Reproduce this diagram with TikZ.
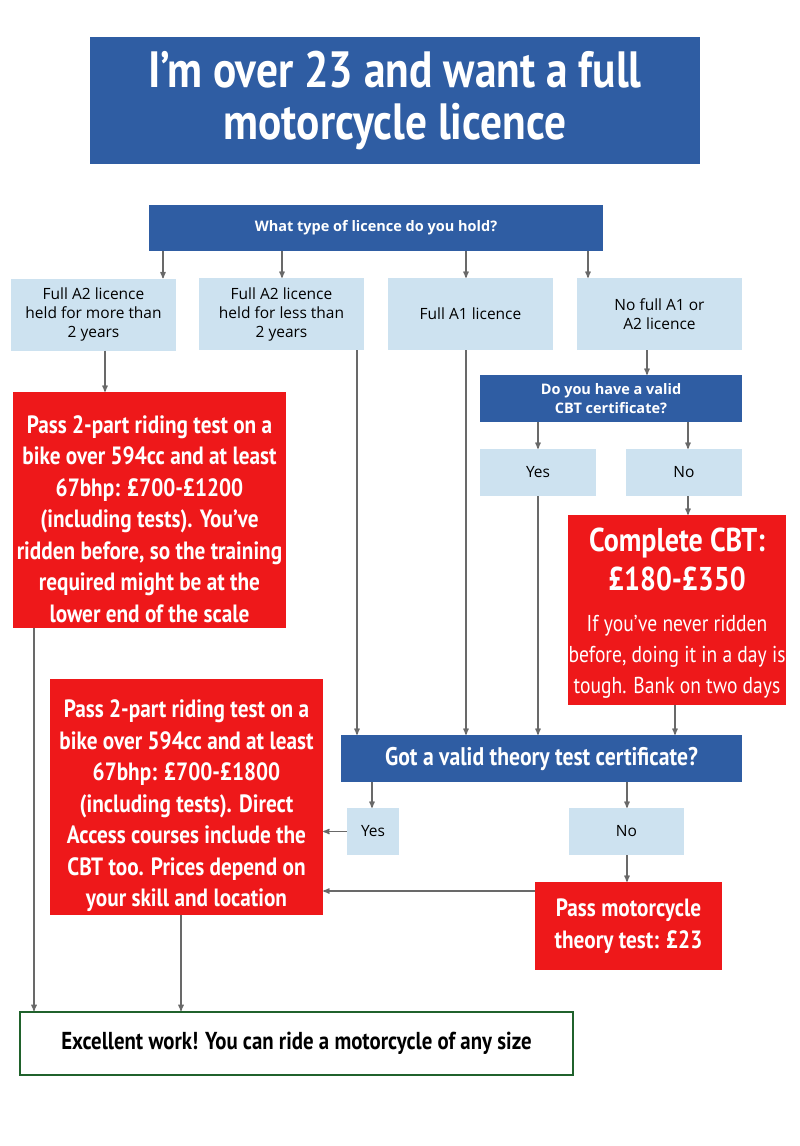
\documentclass[tikz,border=0pt]{standalone}
\usepackage{fontspec}
\setmainfont{Open Sans}
\newfontfamily\condfont[FakeStretch=0.85]{PT Sans}
\usetikzlibrary{arrows,positioning}
\definecolor{govblue}{RGB}{47,93,163}
\definecolor{paleblue}{RGB}{205,226,240}
\definecolor{costred}{RGB}{238,24,26}
\definecolor{okgreen}{RGB}{32,98,44}
\definecolor{pilgrey}{RGB}{105,105,105}
\tikzset{
    %Define standard arrow tip
    >=stealth',
    %Define style for boxes
    titlebox/.style={
           rectangle,
           fill=govblue,
           inner sep=0pt,
           text=white,
           align=center,
           font=\condfont\bfseries\fontsize{51}{52}\selectfont},
    question/.style={
           rectangle,
           fill=govblue,
           inner sep=0pt,
           text=white,
           align=center,
           font=\bfseries\fontsize{14.5}{19}\selectfont},
    bigquestion/.style={
           question,
           font=\condfont\bfseries\fontsize{25.5}{30}\selectfont},
    answer/.style={
           rectangle,
           fill=paleblue,
           inner sep=0pt,
           align=center,
           font=\fontsize{15.5}{19}\selectfont},
    costbox/.style={
           rectangle,
           fill=costred,
           inner sep=0pt,
           text=white,
           align=center,
           font=\condfont\bfseries\fontsize{25}{31.5}\selectfont},
    finish/.style={
           rectangle,
           draw=okgreen,
           line width=2pt,
           inner sep=0pt,
           align=center,
           font=\condfont\bfseries\fontsize{24.5}{28}\selectfont},
    % Define arrow style
    pil/.style={
           ->,
           draw=pilgrey,
           line width=1.3pt}
}
\begin{document}
\begin{tikzpicture}[x=1pt,y=-1pt]
\useasboundingbox (0,0) rectangle (800,1146);
% columns of the connectors
\coordinate (k34) at (34,0);
\coordinate (k105) at (105,0);
\coordinate (k163) at (163,0);
\coordinate (k181) at (181,0);
\coordinate (k282) at (282,0);
\coordinate (k357) at (357,0);
\coordinate (k372) at (372,0);
\coordinate (k466) at (466,0);
\coordinate (k538) at (538,0);
\coordinate (k588) at (588,0);
\coordinate (k627) at (627,0);
\coordinate (k647) at (647,0);
\coordinate (k675) at (675,0);
\coordinate (k688) at (688,0);
\coordinate (r891) at (0,891);

\node[titlebox, minimum width=610pt, minimum height=127pt] (title) at (395,100.5)
    {I’m over 23 and want a full\\motorcycle licence};

\node[question, minimum width=454pt, minimum height=46pt] (hold) at (376,228)
    {What type of licence do you hold?};

\node[answer, minimum width=165pt, minimum height=72pt] (a2more) at (93.5,314.5)
    {Full A2 licence\\held for more than\\2 years};
\node[answer, minimum width=165pt, minimum height=72pt] (a2less) at (281.5,314)
    {Full A2 licence\\held for less than\\2 years};
\node[answer, minimum width=165pt, minimum height=72pt] (a1) at (470.5,314)
    {Full A1 licence};
\node[answer, minimum width=165pt, minimum height=72pt] (nofull) at (659.5,314)
    {No full A1 or\\A2 licence};

\node[question, minimum width=262pt, minimum height=47pt] (cbtq) at (611,398.5)
    {Do you have a valid\\CBT certificate?};
\node[answer, minimum width=116pt, minimum height=47pt] (cyes) at (538,472.5) {Yes};
\node[answer, minimum width=116pt, minimum height=47pt] (cno) at (684,472.5) {No};

\node[costbox, minimum width=218pt, minimum height=190pt, font=\condfont\fontsize{23}{31}\selectfont] (cbt) at (677,610)
    {\\[-1pt]
     \bfseries\fontsize{33}{41}\selectfont Complete CBT:\\[8pt]
     \bfseries\fontsize{33}{41}\selectfont £180-£350\\[10pt]
     If you’ve never ridden\\before, doing it in a day is\\tough. Bank on two days};

\node[costbox, minimum width=273pt, minimum height=236pt] (olddrive) at (149.5,510)
    {\\[4pt]Pass 2-part riding test on a\\bike over 594cc and at least\\67bhp: £700-£1200\\(including tests). You’ve\\ridden before, so the training\\required might be at the\\lower end of the scale};

\node[bigquestion, minimum width=401pt, minimum height=47pt] (theoryq) at (541.5,758.5)
    {Got a valid theory test certificate?};
\node[answer, minimum width=52pt, minimum height=47pt] (tyes) at (373,831.5) {Yes};
\node[answer, minimum width=115pt, minimum height=47pt] (tno) at (626.5,831.5) {No};

\node[costbox, minimum width=273pt, minimum height=236pt] (direct) at (186.5,797)
    {\\[4pt]Pass 2-part riding test on a\\bike over 594cc and at least\\67bhp: £700-£1800\\(including tests). Direct\\Access courses include the\\CBT too. Prices depend on\\your skill and location};

\node[costbox, minimum width=187pt, minimum height=88pt] (theory) at (628.5,926)
    {Pass motorcycle\\theory test: £23};

\node[finish, minimum width=553pt, minimum height=63pt] (done) at (296.5,1043.5)
    {Excellent work! You can ride a motorcycle of any size};

% connectors
\draw[pil] (hold.south -| k163) -- (a2more.north -| k163);
\draw[pil] (hold.south -| k282) -- (a2less.north -| k282);
\draw[pil] (hold.south -| k466) -- (a1.north -| k466);
\draw[pil] (hold.south -| k588) -- (nofull.north -| k588);
\draw[pil] (a2more.south -| k105) -- (olddrive.north -| k105);
\draw[pil] (nofull.south -| k647) -- (cbtq.north -| k647);
\draw[pil] (cbtq.south -| k538) -- (cyes.north -| k538);
\draw[pil] (cbtq.south -| k688) -- (cno.north -| k688);
\draw[pil] (cno.south -| k688) -- (cbt.north -| k688);
\draw[pil] (a2less.south -| k357) -- (theoryq.north -| k357);
\draw[pil] (a1.south -| k466) -- (theoryq.north -| k466);
\draw[pil] (cyes.south -| k538) -- (theoryq.north -| k538);
\draw[pil] (cbt.south -| k675) -- (theoryq.north -| k675);
\draw[pil] (theoryq.south -| k372) -- (tyes.north -| k372);
\draw[pil] (theoryq.south -| k627) -- (tno.north -| k627);
\draw[pil] (tno.south -| k627) -- (theory.north -| k627);
\draw[pil] (tyes.west) -- (tyes.west -| direct.east);
\draw[pil] (theory.west |- r891) -- (direct.east |- r891);
\draw[pil] (olddrive.south -| k34) -- (done.north -| k34);
\draw[pil] (direct.south -| k181) -- (done.north -| k181);
\end{tikzpicture}
\end{document}
